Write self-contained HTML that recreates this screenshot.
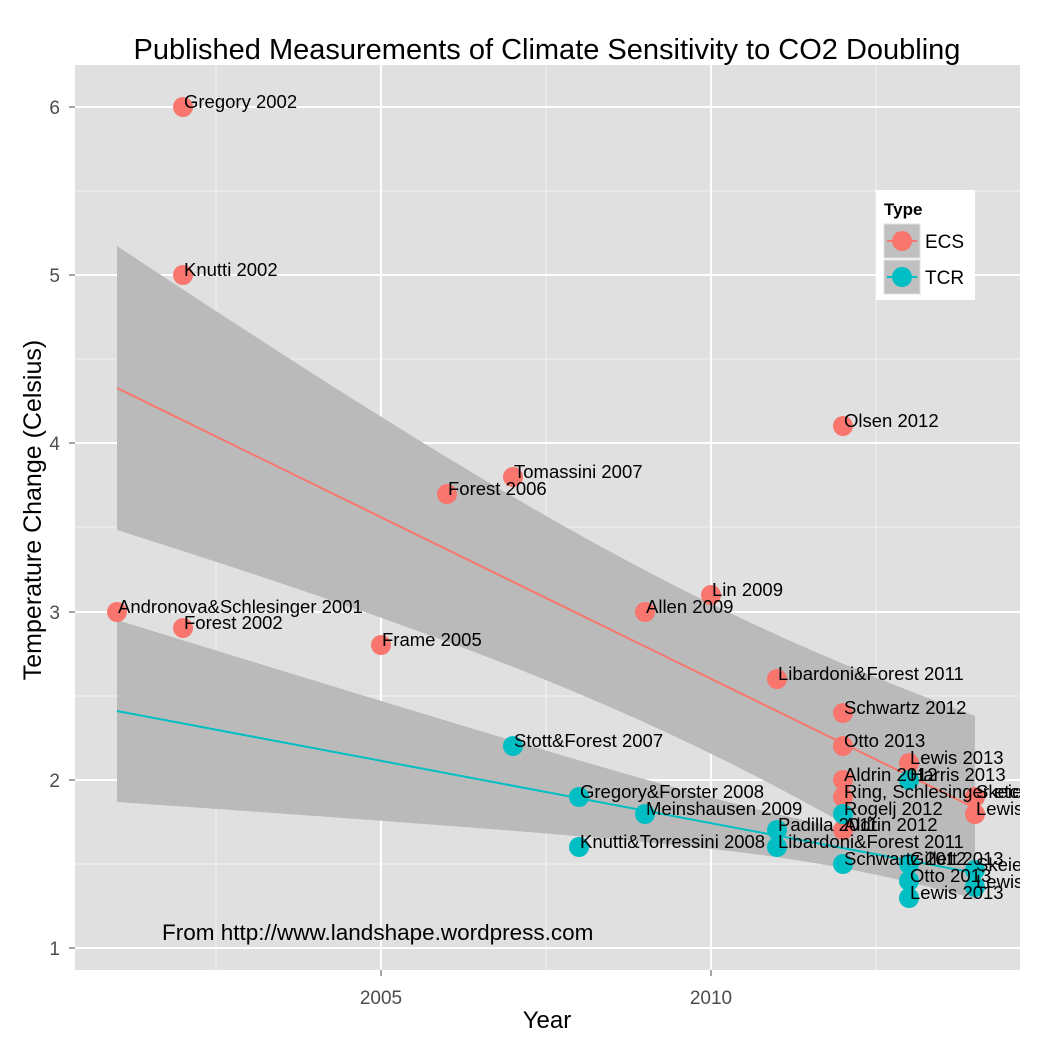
<!DOCTYPE html>
<html><head><style>body{margin:0;background:#fff}svg{display:block}text{font-family:"Liberation Sans",Arial,sans-serif}</style></head>
<body>
<svg id="s" width="1050" height="1050" xmlns="http://www.w3.org/2000/svg">
<rect x="75" y="65" width="945" height="905" fill="#e0e0e0"/>
<g stroke="#f2f2f2" stroke-width="1">
<line x1="216" y1="65" x2="216" y2="970"/><line x1="546" y1="65" x2="546" y2="970"/><line x1="876" y1="65" x2="876" y2="970"/>
<line x1="75" y1="864" x2="1020" y2="864"/><line x1="75" y1="696" x2="1020" y2="696"/><line x1="75" y1="527" x2="1020" y2="527"/><line x1="75" y1="359" x2="1020" y2="359"/><line x1="75" y1="191" x2="1020" y2="191"/>
</g>
<g stroke="#fff" stroke-width="2">
<line x1="381" y1="65" x2="381" y2="970"/><line x1="711" y1="65" x2="711" y2="970"/>
<line x1="75" y1="948" x2="1020" y2="948"/><line x1="75" y1="780" x2="1020" y2="780"/><line x1="75" y1="612" x2="1020" y2="612"/><line x1="75" y1="443" x2="1020" y2="443"/><line x1="75" y1="275" x2="1020" y2="275"/><line x1="75" y1="107" x2="1020" y2="107"/>
</g>
<g id="rib"></g>
<line x1="117" y1="388" x2="975" y2="808" stroke="#f8766d" stroke-width="2"/>
<line x1="117" y1="711" x2="975" y2="873" stroke="#00bfc4" stroke-width="2"/>
<g fill="#f8766d">
<circle cx="117" cy="612" r="10"/><circle cx="183" cy="107" r="10"/><circle cx="183" cy="275" r="10"/><circle cx="183" cy="628" r="10"/><circle cx="381" cy="645" r="10"/><circle cx="447" cy="494" r="10"/><circle cx="513" cy="477" r="10"/><circle cx="645" cy="612" r="10"/><circle cx="711" cy="595" r="10"/><circle cx="777" cy="679" r="10"/><circle cx="843" cy="426" r="10"/><circle cx="843" cy="713" r="10"/><circle cx="843" cy="746" r="10"/><circle cx="843" cy="780" r="10"/><circle cx="843" cy="797" r="10"/><circle cx="843" cy="830" r="10"/><circle cx="909" cy="763" r="10"/><circle cx="975" cy="797" r="10"/><circle cx="975" cy="814" r="10"/>
</g>
<g fill="#00bfc4">
<circle cx="513" cy="746" r="10"/><circle cx="579" cy="797" r="10"/><circle cx="579" cy="847" r="10"/><circle cx="645" cy="814" r="10"/><circle cx="777" cy="830" r="10"/><circle cx="777" cy="847" r="10"/><circle cx="843" cy="814" r="10"/><circle cx="843" cy="864" r="10"/><circle cx="909" cy="780" r="10"/><circle cx="909" cy="864" r="10"/><circle cx="909" cy="881" r="10"/><circle cx="909" cy="898" r="10"/><circle cx="975" cy="870" r="10"/><circle cx="975" cy="887" r="10"/>
</g>
<g font-size="18.5" fill="#000">
<text x="118" y="613">Andronova&amp;Schlesinger 2001</text><text x="184" y="108">Gregory 2002</text><text x="184" y="276">Knutti 2002</text><text x="184" y="629">Forest 2002</text><text x="382" y="646">Frame 2005</text><text x="448" y="495">Forest 2006</text><text x="514" y="478">Tomassini 2007</text><text x="646" y="613">Allen 2009</text><text x="712" y="596">Lin 2009</text><text x="778" y="680">Libardoni&amp;Forest 2011</text><text x="844" y="427">Olsen 2012</text><text x="844" y="714">Schwartz 2012</text><text x="844" y="747">Otto 2013</text><text x="844" y="781">Aldrin 2012</text><text x="844" y="798">Ring, Schlesinger etc</text><text x="844" y="831">Aldrin 2012</text><text x="910" y="764">Lewis 2013</text><text x="976" y="798">Skeie</text><text x="976" y="815">Lewis</text>
<text x="514" y="747">Stott&amp;Forest 2007</text><text x="580" y="798">Gregory&amp;Forster 2008</text><text x="580" y="848">Knutti&amp;Torressini 2008</text><text x="646" y="815">Meinshausen 2009</text><text x="778" y="831">Padilla 2011</text><text x="778" y="848">Libardoni&amp;Forest 2011</text><text x="844" y="815">Rogelj 2012</text><text x="844" y="865">Schwartz 2012</text><text x="910" y="781">Harris 2013</text><text x="910" y="865">Gillett 2013</text><text x="910" y="882">Otto 2013</text><text x="910" y="899">Lewis 2013</text><text x="976" y="871">Skeie</text><text x="976" y="888">Lewis</text>
</g>
<rect x="1020" y="38" width="30" height="940" fill="#fff"/>
<text x="162" y="940" font-size="22.5">From http://www.landshape.wordpress.com</text>
<rect x="876" y="190" width="99" height="110" fill="#fff"/>
<text x="884" y="215" font-size="17" font-weight="bold">Type</text>
<rect x="884" y="224" width="36" height="34" fill="#c0c0c0" stroke="#e0e0e0"/>
<rect x="884" y="260" width="36" height="34" fill="#c0c0c0" stroke="#e0e0e0"/>
<line x1="887" y1="241" x2="917" y2="241" stroke="#f8766d" stroke-width="2"/><circle cx="902" cy="241" r="10" fill="#f8766d"/>
<line x1="887" y1="277" x2="917" y2="277" stroke="#00bfc4" stroke-width="2"/><circle cx="902" cy="277" r="10" fill="#00bfc4"/>
<text x="925" y="248" font-size="19">ECS</text><text x="925" y="284" font-size="19">TCR</text>
<g font-size="19" fill="#4d4d4d" text-anchor="end">
<text x="60" y="955">1</text><text x="60" y="787">2</text><text x="60" y="619">3</text><text x="60" y="450">4</text><text x="60" y="282">5</text><text x="60" y="114">6</text>
</g>
<g stroke="#4d4d4d"><line x1="69" y1="948" x2="75" y2="948"/><line x1="69" y1="780" x2="75" y2="780"/><line x1="69" y1="612" x2="75" y2="612"/><line x1="69" y1="443" x2="75" y2="443"/><line x1="69" y1="275" x2="75" y2="275"/><line x1="69" y1="107" x2="75" y2="107"/><line x1="381" y1="970" x2="381" y2="976"/><line x1="711" y1="970" x2="711" y2="976"/></g>
<g font-size="19" fill="#4d4d4d" text-anchor="middle"><text x="381" y="1004">2005</text><text x="711" y="1004">2010</text></g>
<text x="547" y="1028" font-size="24" text-anchor="middle">Year</text>
<text transform="translate(41,510) rotate(-90)" font-size="25" text-anchor="middle">Temperature Change (Celsius)</text>
<text x="547" y="59" font-size="29" text-anchor="middle">Published Measurements of Climate Sensitivity to CO2 Doubling</text>
</svg>
<script>
function rib(x0,y0,x1,y1,xm,a,b){var up=[],lo=[];for(var x=117;x<=975;x+=6){var y=y0+(y1-y0)*(x-x0)/(x1-x0);var h=Math.sqrt(a+b*(x-xm)*(x-xm));up.push(x+','+(y-h));lo.unshift(x+','+(y+h));}
var p=document.createElementNS('http://www.w3.org/2000/svg','polygon');p.setAttribute('points',up.concat(lo).join(' '));p.setAttribute('fill','#bababa');document.getElementById('rib').appendChild(p);}
rib(117,388,975,808,711,5625,0.0412);
rib(117,711,975,873,843,400,0.01495);
</script>
</body></html>
